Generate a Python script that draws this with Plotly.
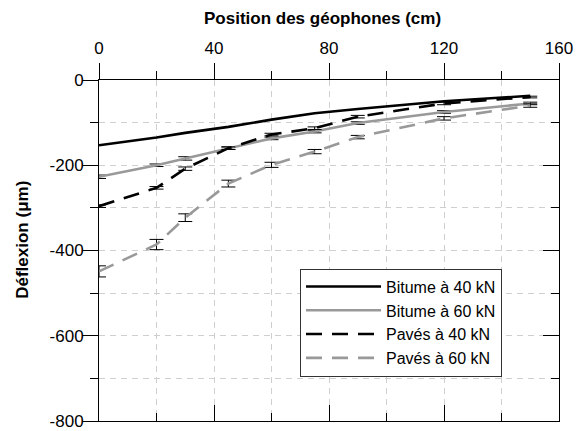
import plotly.graph_objects as go

positions = [0, 20, 30, 45, 60, 75, 90, 120, 150]

bitume_40 = [-153, -135, -124, -110, -93, -78, -68, -50, -37]
bitume_60 = [-227, -200, -184, -160, -137, -121, -101, -75, -55]
paves_40 = [-296, -253, -208, -160, -128, -113, -86, -55, -40]
paves_60 = [-449, -386, -323, -243, -199, -168, -134, -90, -60]

err_bitume_60 = [4, 3, 4, 3, 3, 3, 3, 3, 3]
err_paves_40 = [3, 3, 4, 3, 3, 3, 3, 3, 2]
err_paves_60 = [13, 12, 9, 8, 6, 5, 4, 4, 4]

names = ["Bitume à 40 kN", "Bitume à 60 kN", "Pavés à 40 kN", "Pavés à 60 kN"]

y_tickvals = [0, -200, -400, -600, -800]
y_ticktext = ["0", "-200", "-400", "-600", "-800"]

FONT = "Liberation Sans, Arial, Helvetica, sans-serif"
GRAY = "#999999"
GRID = "#cfcfcf"

fig = go.Figure()

def err(arr):
    if arr is None:
        return dict(visible=False)
    return dict(type="data", array=arr, visible=True, color="black", thickness=1, width=7)

series = [
    (bitume_40, None, "black", "solid"),
    (bitume_60, err_bitume_60, GRAY, "solid"),
    (paves_40, err_paves_40, "black", "16px,10px"),
    (paves_60, err_paves_60, GRAY, "16px,10px"),
]
for i, (vals, e, col, dash) in enumerate(series):
    fig.add_trace(go.Scatter(
        x=positions, y=vals, mode="lines", name=names[i],
        line=dict(color=col, width=2.6, dash=dash),
        error_y=err(e), legendgroup=f"g{i}",
    ))

# dummy trace to activate the mirrored axes
fig.add_trace(go.Scatter(x=[None], y=[None], xaxis="x2", yaxis="y2",
                         showlegend=False, hoverinfo="skip"))

tickfont = dict(family=FONT, size=17, color="black")

fig.update_layout(
    width=585, height=431,
    margin=dict(l=99, r=26, t=80, b=10, autoexpand=False),
    paper_bgcolor="white", plot_bgcolor="white",
    font=dict(family=FONT, color="black"),
    showlegend=True,
    legend=dict(x=0.437, y=0.447, xanchor="left", yanchor="top",
                bgcolor="white", bordercolor="#333333", borderwidth=1,
                font=dict(family=FONT, size=16, color="black"),
                tracegroupgap=0, itemwidth=75),
    xaxis=dict(side="top", range=[0, 160], tick0=0, dtick=40,
               ticks="outside", ticklen=16, tickwidth=1, tickcolor="black",
               showline=True, linecolor="black", linewidth=1,
               showgrid=True, gridcolor=GRID, griddash="6px,5px", gridwidth=1,
               zeroline=False, tickfont=tickfont, ticklabelstandoff=2,
               ticklabeloverflow="allow",
               minor=dict(dtick=20, ticks="outside", ticklen=8, tickcolor="black",
                          showgrid=True, gridcolor=GRID, griddash="6px,5px", gridwidth=1)),
    yaxis=dict(range=[-800, 0], tickmode="array", tickvals=y_tickvals, ticktext=y_ticktext,
               ticks="outside", ticklen=16, tickwidth=1, tickcolor="black",
               showline=True, linecolor="black", linewidth=1,
               showgrid=True, gridcolor=GRID, griddash="6px,5px", gridwidth=1,
               zeroline=False, tickfont=tickfont, ticklabelstandoff=-5,
               ticklabeloverflow="allow",
               minor=dict(tick0=0, dtick=100, ticks="outside", ticklen=8, tickcolor="black",
                          showgrid=True, gridcolor=GRID, griddash="6px,5px", gridwidth=1)),
    xaxis2=dict(overlaying="x", anchor="y2", side="bottom", range=[0, 160],
                tick0=0, dtick=40, ticks="inside", ticklen=16, tickcolor="black",
                showline=True, linecolor="black", linewidth=1, showgrid=False,
                zeroline=False, showticklabels=False,
                minor=dict(dtick=20, ticks="inside", ticklen=8, tickcolor="black", showgrid=False)),
    yaxis2=dict(overlaying="y", anchor="x2", side="right", range=[-800, 0],
                tick0=0, dtick=200, ticks="inside", ticklen=16, tickcolor="black",
                showline=True, linecolor="black", linewidth=1, showgrid=False,
                zeroline=False, showticklabels=False,
                minor=dict(dtick=100, ticks="inside", ticklen=8, tickcolor="black", showgrid=False)),
    annotations=[
        dict(text="<b>Position des géophones (cm)</b>", xref="paper", yref="paper",
             x=0.485, y=1.18, xanchor="center", yanchor="middle", showarrow=False,
             font=dict(family=FONT, size=17, color="black")),
        dict(text="<b>Déflexion (μm)</b>", xref="paper", yref="paper",
             x=-0.167, y=0.532, xanchor="center", yanchor="middle", showarrow=False,
             textangle=-90, font=dict(family=FONT, size=17, color="black")),
    ],
)

fig.write_html(
    "out.html",
    config={"displayModeBar": False},
    post_script=(
        "document.body.style.margin='0';"
        "document.body.style.overflow='hidden';"
        "document.documentElement.style.overflow='hidden';"
    ),
)
